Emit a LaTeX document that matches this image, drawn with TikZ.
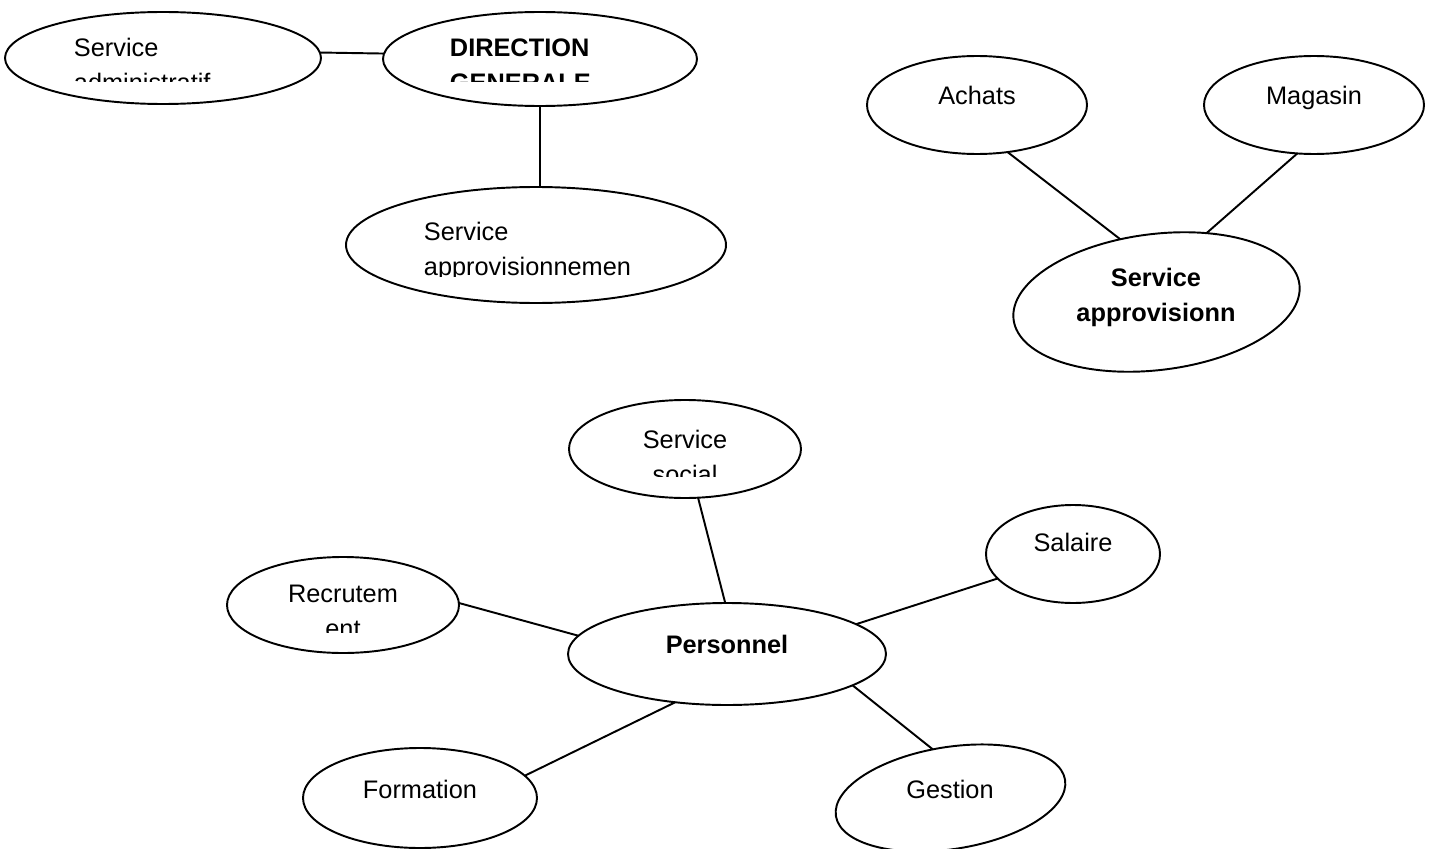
\documentclass[tikz,border=0pt]{standalone}
\usepackage{fontspec}
\setmainfont{Liberation Sans}
\usetikzlibrary{shapes.geometric}
\begin{document}
\begin{tikzpicture}[x=0.75pt,y=-0.75pt, line width=1.45pt,
  ell/.style 2 args={ellipse, draw, inner sep=0pt, outer sep=0pt, minimum width=#1*0.75pt, minimum height=#2*0.75pt},
  txt/.style={inner sep=0pt, font=\fontsize{19}{26.25}\selectfont},
  btxt/.style={inner sep=0pt, font=\fontsize{19}{26.25}\selectfont\bfseries}]
\useasboundingbox (0,0) rectangle (1435,849);
\clip (0,0) rectangle (1435,849);

% ellipses
\node[ell={316}{92}] (sa) at (163,58) {};
\node[ell={314}{94}] (dg) at (540,59) {};
\node[ell={380}{116}] (sap) at (536,245) {};
\node[ell={220}{98}] (ach) at (977,105) {};
\node[ell={220}{98}] (mag) at (1314,105) {};
\node[ell={288}{136}, rotate=7] (sa2) at (1156.5,302) {};
\node[ell={232}{98}] (soc) at (685,449) {};
\node[ell={318}{102}] (pers) at (727,654) {};
\node[ell={174}{98}] (sal) at (1073,554) {};
\node[ell={232}{96}] (rec) at (343,605) {};
\node[ell={234}{100}] (form) at (420,798) {};
\node[ell={232}{102}, rotate=9] (gest) at (950.5,798) {};

% texts (clipped where the original cuts them)
\begin{scope}
\clip (0,0) rectangle (1435,82);
\node[txt, align=left, anchor=base west] (sat) at (73,92) {Service\\administratif};
\node[btxt, align=left, anchor=base west] (dgt) at (449,92) {DIRECTION\\GENERALE};
\end{scope}
\begin{scope}
\clip (0,150) rectangle (1435,276);
\node[txt, align=left, anchor=base west] (sapt) at (423,275) {Service\\approvisionnemen};
\end{scope}
\node[btxt, align=center, anchor=base] (sa2t) at (1156,321) {Service\\approvisionn};
\begin{scope}
\clip (0,380) rectangle (1435,476);
\node[txt, align=center, anchor=base] (soct) at (685,483) {Service\\social};
\end{scope}
\begin{scope}
\clip (0,540) rectangle (1435,632);
\node[txt, align=center, anchor=base] (rect) at (343,637) {Recrutem\\ent};
\end{scope}
\node[txt, anchor=base] (acht) at (977,104) {Achats};
\node[txt, anchor=base] (magt) at (1314,104) {Magasin};
\node[btxt, anchor=base] (perst) at (727,653) {Personnel};
\node[txt, anchor=base] (salt) at (1073,551) {Salaire};
\node[txt, anchor=base] (formt) at (420,798) {Formation};
\node[txt, anchor=base] (gestt) at (950,798) {Gestion};

% connectors
\draw (sa.2) -- (dg.178);
\draw (dg.south) -- (dg.south |- sap.north);
\draw (ach.-57) -- (sa2.113);
\draw (mag.-109) -- (sa2.47);
\draw (soc.-75) -- (pers.92);
\draw (rec.1) -- (pers.173);
\draw (sal.198) -- (pers.13);
\draw (form.12) -- (pers.223);
\draw (pers.-14) -- (gest.101);
\end{tikzpicture}
\end{document}
